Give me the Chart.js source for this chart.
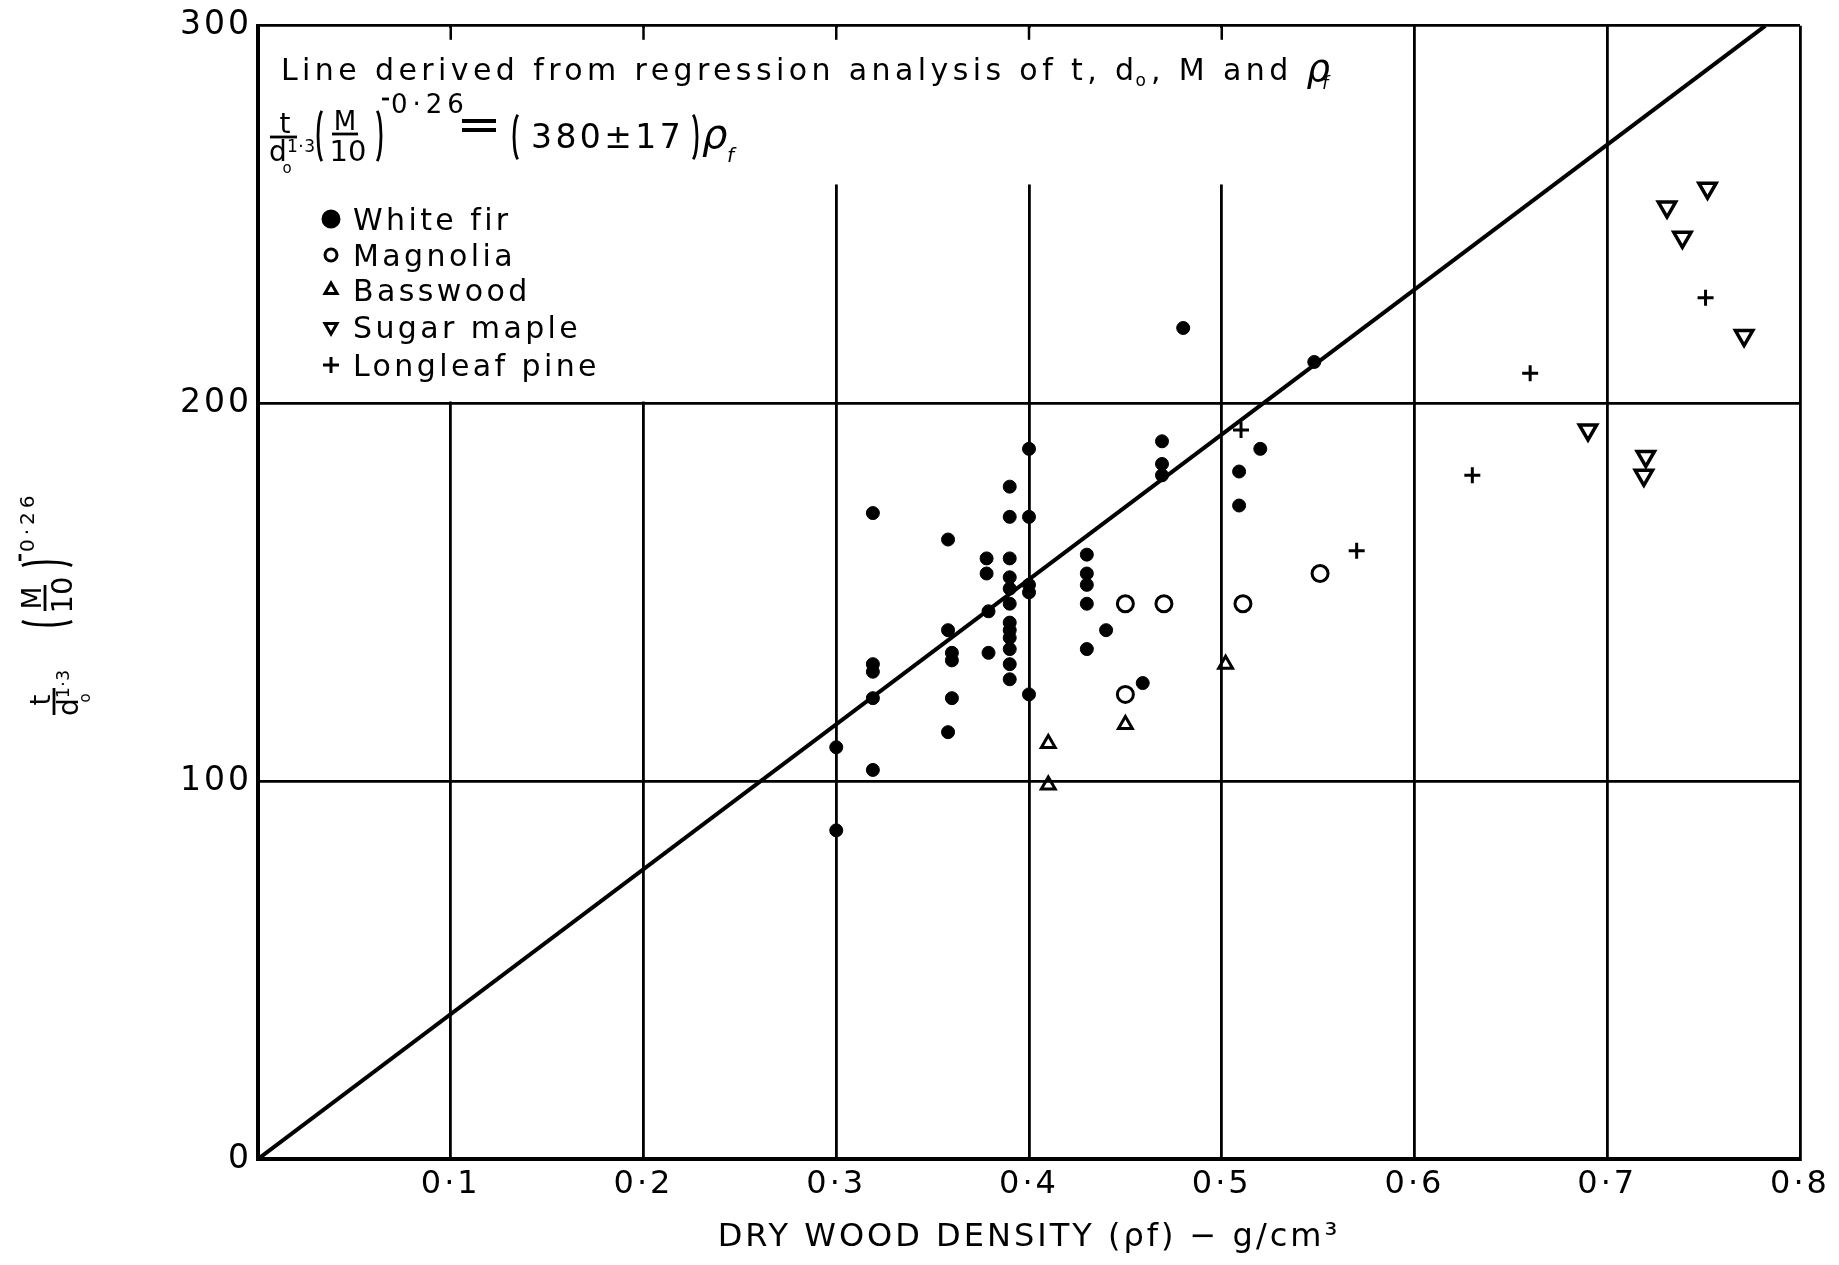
<!DOCTYPE html>
<html>
<head>
<meta charset="utf-8">
<script src="https://cdn.jsdelivr.net/npm/chart.js@4.4.0/dist/chart.umd.min.js"></script>
<style>
  html, body { margin: 0; padding: 0; background: #fff; }
</style>
</head>
<body>
<canvas id="chart" width="1839" height="1265"></canvas>
<script>
// values
const whiteFirX = [0.30, 0.30, 0.319, 0.319, 0.319, 0.319, 0.319, 0.358, 0.358, 0.36, 0.36, 0.36, 0.358,
  0.378, 0.378, 0.379, 0.379, 0.39, 0.39, 0.39, 0.39, 0.39, 0.39, 0.39, 0.39, 0.39, 0.39, 0.39, 0.39,
  0.40, 0.40, 0.40, 0.40, 0.40, 0.43, 0.43, 0.43, 0.43, 0.43, 0.44, 0.459, 0.469, 0.469, 0.469, 0.48,
  0.509, 0.509, 0.52, 0.548];
const whiteFirY = [109, 87, 171, 131, 129, 122, 103, 164, 140, 134, 132, 122, 113,
  159, 155, 145, 134, 178, 170, 159, 154, 151, 147, 142, 140, 138, 135, 131, 127,
  188, 170, 152, 150, 123, 160, 155, 152, 147, 135, 140, 126, 190, 184, 181, 220,
  182, 173, 188, 211];
const magnoliaX = [0.45, 0.47, 0.511, 0.45, 0.551];
const magnoliaY = [147, 147, 147, 123, 155];
const basswoodX = [0.41, 0.41, 0.45, 0.502];
const basswoodY = [110, 99, 115, 131];
const sugarMapleX = [0.731, 0.752, 0.739, 0.771, 0.690, 0.720, 0.719];
const sugarMapleY = [252, 257, 244, 218, 193, 186, 181];
const longleafX = [0.751, 0.660, 0.510, 0.630, 0.570];
const longleafY = [228, 208, 193, 181, 161];
const regressionX = [0, 0.782];
const regressionY = [0, 300];

const seriesNames = ['White fir', 'Magnolia', 'Basswood', 'Sugar maple', 'Longleaf pine'];
const xTickLabels = ['', '0·1', '0·2', '0·3', '0·4', '0·5', '0·6', '0·7', '0·8'];
const yTickLabels = ['0', '100', '200', '300'];

const FONT = '"DejaVu Sans", sans-serif';
const pts = (xs, ys) => xs.map((x, i) => ({ x: x, y: ys[i] }));

function put(ctx, s, x, y, size, italic, ls) {
  ctx.font = (italic ? 'italic ' : '') + size + 'px ' + FONT;
  ctx.letterSpacing = (ls || 0) + 'px';
  ctx.fillText(s, x, y);
  return ctx.measureText(s).width;
}

function bar(ctx, x1, x2, y) {
  ctx.beginPath();
  ctx.moveTo(x1, y);
  ctx.lineTo(x2, y);
  ctx.stroke();
}

function paren(ctx, x, yc, rx, ry, open) {
  ctx.beginPath();
  if (open) ctx.ellipse(x + rx, yc, rx, ry, 0, Math.PI * 0.62, Math.PI * 1.38);
  else ctx.ellipse(x - rx, yc, rx, ry, 0, -Math.PI * 0.38, Math.PI * 0.38);
  ctx.stroke();
}

// t/d_o^1·3 (M/10)^-0·26 ; x0 = start of first fraction bar, yb = its height
function drawLHS(ctx, x0, yb, gap, dyM, supSize, supLs, supDy) {
  ctx.lineWidth = 2.8;
  ctx.textAlign = 'center';
  put(ctx, 't', x0 + 15, yb - 4, 28);
  bar(ctx, x0, x0 + 27, yb);
  put(ctx, 'd', x0 + 8, yb + 24, 28);
  put(ctx, 'o', x0 + 17, yb + 36, 15);
  ctx.textAlign = 'left';
  put(ctx, '1·3', x0 + 17, yb + 15, 17, false, 0.5);
  const X = x0 + 48 + gap;
  const ym = yb + dyM;
  paren(ctx, X, ym - 1, 6, 27, true);
  paren(ctx, X + 63, ym - 1, 6, 27, false);
  ctx.textAlign = 'center';
  put(ctx, 'M', X + 27, ym - 7, 26);
  bar(ctx, X + 14, X + 40, ym - 3);
  put(ctx, '10', X + 30, ym + 24, 29);
  ctx.textAlign = 'left';
  bar(ctx, X + 64, X + 71, ym + supDy - 14);
  put(ctx, '0·26', X + 73, ym + supDy, supSize, false, supLs);
}

const overlay = {
  id: 'overlay',
  beforeDraw(chart) {
    chart.ctx.letterSpacing = '3px';
  },
  beforeDatasetsDraw(chart) {
    const { ctx, scales: { x, y } } = chart;
    ctx.save();
    ctx.fillStyle = '#fff';
    const l = x.getPixelForValue(0) + 3;
    const t = y.getPixelForValue(300) + 2;
    const mid = y.getPixelForValue(258);
    const b = y.getPixelForValue(200) - 2;
    ctx.fillRect(l, t, x.getPixelForValue(0.6) - 2 - l, mid - t);
    ctx.fillRect(l, mid - 1, x.getPixelForValue(0.3) - 2 - l, b - mid + 1);
    ctx.strokeStyle = '#000';
    ctx.lineWidth = 2.5;
    [0.1, 0.2, 0.3, 0.4, 0.5].forEach(v => {
      const px = x.getPixelForValue(v);
      ctx.beginPath();
      ctx.moveTo(px, t - 2);
      ctx.lineTo(px, t + 12);
      ctx.stroke();
    });
    ctx.restore();
  },
  afterDatasetsDraw(chart) {
    const { ctx } = chart;
    ctx.save();
    ctx.fillStyle = '#000';
    ctx.strokeStyle = '#000';
    ctx.textBaseline = 'alphabetic';
    ctx.textAlign = 'left';

    // heading line
    let cx = 281, by = 80;
    cx += put(ctx, 'Line derived from regression analysis of t, d', cx, by, 30, false, 4.4);
    cx += put(ctx, 'o', cx - 3, by + 6, 17, false, 2);
    cx += put(ctx, ', M and ', cx, by, 30, false, 4.4);
    cx += put(ctx, 'ρ', cx, by + 1, 37, true);
    put(ctx, 'f', cx - 8, by + 9, 18, true);

    // equation
    const yb = 137;
    drawLHS(ctx, 270, yb, 0, 0, 26, 5, -24);
    ctx.lineWidth = 4;
    bar(ctx, 462, 496, yb - 16);
    bar(ctx, 462, 496, yb - 7);
    ctx.lineWidth = 2.8;
    paren(ctx, 514, yb, 6, 24, true);
    put(ctx, '380±17', 531, yb + 11, 33, false, 3.4);
    paren(ctx, 697, yb, 6, 24, false);
    put(ctx, 'ρ', 702, yb + 11, 40, true);
    put(ctx, 'f', 727, yb + 25, 20, true);

    // legend
    const rows = [219, 255, 290, 327, 365];
    const radii = [8, 6, 7, 7, 8];
    chart.data.datasets.slice(0, 5).forEach((ds, i) => {
      ctx.fillStyle = ds.backgroundColor;
      ctx.strokeStyle = '#000';
      ctx.lineWidth = 3;
      Chart.helpers.drawPoint(ctx, {
        pointStyle: ds.pointStyle, rotation: ds.rotation || 0,
        radius: radii[i], borderWidth: i === 0 ? 1 : 3
      }, 331, rows[i]);
      ctx.fillStyle = '#000';
      put(ctx, seriesNames[i], 353, rows[i] + 11, 30, false, 3.4);
    });

    // y axis title, rotated
    ctx.translate(54, 715);
    ctx.rotate(-Math.PI / 2);
    drawLHS(ctx, 0, 0, 42, -6, 20, 4, -14);
    ctx.restore();
  }
};

const pointBase = { borderColor: '#000', showLine: false };

new Chart(document.getElementById('chart'), {
  type: 'scatter',
  data: {
    datasets: [
      Object.assign({ label: seriesNames[0], data: pts(whiteFirX, whiteFirY), pointStyle: 'circle',
        pointRadius: 6.5, backgroundColor: '#000', borderWidth: 1 }, pointBase),
      Object.assign({ label: seriesNames[1], data: pts(magnoliaX, magnoliaY), pointStyle: 'circle',
        pointRadius: 8, backgroundColor: 'rgba(255,255,255,0)', borderWidth: 3 }, pointBase),
      Object.assign({ label: seriesNames[2], data: pts(basswoodX, basswoodY), pointStyle: 'triangle',
        pointRadius: 8, backgroundColor: 'rgba(255,255,255,0)', borderWidth: 3 }, pointBase),
      Object.assign({ label: seriesNames[3], data: pts(sugarMapleX, sugarMapleY), pointStyle: 'triangle',
        rotation: 180, pointRadius: 10, backgroundColor: 'rgba(255,255,255,0)', borderWidth: 3.5 }, pointBase),
      Object.assign({ label: seriesNames[4], data: pts(longleafX, longleafY), pointStyle: 'cross',
        pointRadius: 8, backgroundColor: 'rgba(255,255,255,0)', borderWidth: 3 }, pointBase),
      { label: 'Regression', data: pts(regressionX, regressionY), showLine: true, borderColor: '#000',
        borderWidth: 4, pointRadius: 0, fill: false, tension: 0 }
    ]
  },
  options: {
    responsive: false,
    animation: false,
    events: [],
    layout: { padding: { top: 21, right: 39, bottom: 0, left: 0 } },
    plugins: { legend: { display: false }, tooltip: { enabled: false } },
    scales: {
      x: {
        type: 'linear', min: 0, max: 0.8,
        border: { display: true, color: '#000', width: 4 },
        grid: { color: '#000', lineWidth: 2.8, drawTicks: false },
        ticks: {
          stepSize: 0.1, autoSkip: false, maxRotation: 0, color: '#000', padding: 6,
          font: { family: FONT, size: 32 },
          callback: (v, i) => xTickLabels[i]
        },
        title: {
          display: true, text: 'DRY WOOD DENSITY (ρf) − g/cm³', color: '#000',
          font: { family: FONT, size: 32 }, padding: { top: 0, bottom: 8 }
        },
        afterFit: s => { s.height = 106; }
      },
      y: {
        min: 0, max: 300,
        border: { display: true, color: '#000', width: 4 },
        grid: { color: '#000', lineWidth: 2.8, drawTicks: false },
        ticks: {
          stepSize: 100, color: '#000', padding: 6,
          font: { family: FONT, size: 33 },
          callback: (v, i) => yTickLabels[i]
        },
        afterFit: s => { s.width = 258; }
      }
    }
  },
  plugins: [overlay]
});
</script>
</body>
</html>
